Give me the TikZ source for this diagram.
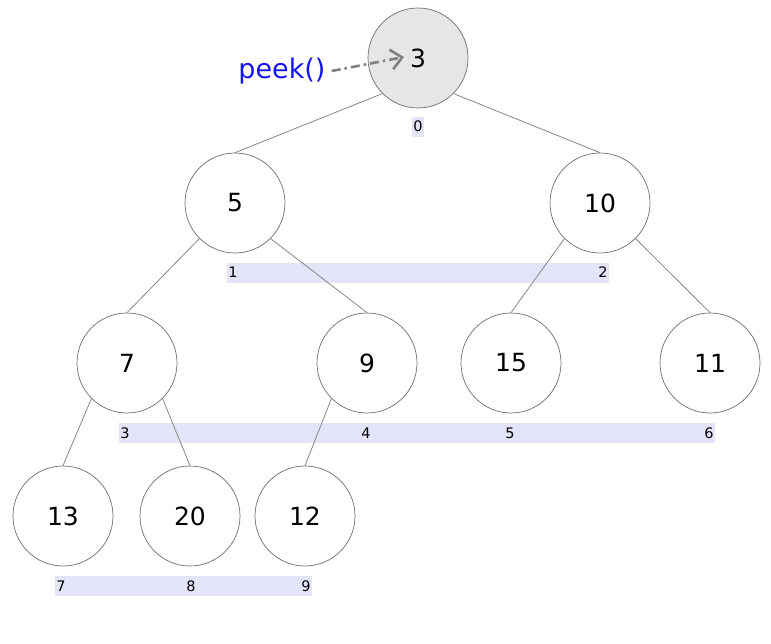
\documentclass[tikz,border=0pt]{standalone}
\usepackage{fontspec}
\setmainfont{DejaVu Sans}
\usetikzlibrary{backgrounds,arrows.meta}
\definecolor{bandcol}{RGB}{228,228,248}
\definecolor{rootfill}{RGB}{230,230,230}
\definecolor{edgecol}{RGB}{135,135,135}
\definecolor{circcol}{RGB}{110,110,110}
\definecolor{peekblue}{RGB}{20,20,245}
\definecolor{arrowcol}{RGB}{128,128,128}
\begin{document}
\begin{tikzpicture}[x=1pt,y=-1pt,
  heapnode/.style={circle,draw=circcol,line width=0.7pt,fill=white,minimum size=100pt,inner sep=0pt,font=\fontsize{25}{30}\selectfont},
  idx/.style={font=\fontsize{14.5}{16}\selectfont,inner xsep=1.5pt,inner ysep=2pt,text height=13pt,text depth=3pt},
  edge/.style={draw=edgecol,line width=0.8pt},
  band/.style={fill=bandcol}]
\useasboundingbox (0,0) rectangle (771,644);
% nodes
\node[heapnode,fill=rootfill] (n0) at (418,58) {3};
\node[heapnode] (n1) at (235,203) {5};
\node[heapnode] (n2) at (600,203) {10};
\node[heapnode] (n3) at (127,363) {7};
\node[heapnode] (n4) at (367,363) {9};
\node[heapnode] (n5) at (511,363) {15};
\node[heapnode] (n6) at (710,363) {11};
\node[heapnode] (n7) at (63,516) {13};
\node[heapnode] (n8) at (190,516) {20};
\node[heapnode] (n9) at (305,516) {12};
% index labels
\node[idx] (i0) at (418,127) {0};
\node[idx] (i1) at (233,273) {1};
\node[idx] (i2) at (603,273) {2};
\node[idx] (i3) at (125,433) {3};
\node[idx] (i4) at (366,433) {4};
\node[idx] (i5) at (510,433) {5};
\node[idx] (i6) at (709,433) {6};
\node[idx] (i7) at (61,586) {7};
\node[idx] (i8) at (191,586) {8};
\node[idx] (i9) at (306,586) {9};
\begin{scope}[on background layer]
  \fill[band] (i0.south west) rectangle (i0.north east);
  \fill[band] (i1.south west) rectangle (i2.north east);
  \fill[band] (i3.south west) rectangle (i6.north east);
  \fill[band] (i7.south west) rectangle (i9.north east);
  % edges
  \draw[edge] (n0.south west) -- (n1.north);
  \draw[edge] (n0.south east) -- (n2.north);
  \draw[edge] (n1.south west) -- (n3.north);
  \draw[edge] (n1.south east) -- (n4.north);
  \draw[edge] (n2.south west) -- (n5.north);
  \draw[edge] (n2.south east) -- (n6.north);
  \draw[edge] (n3.south west) -- (n7.north);
  \draw[edge] (n3.south east) -- (n8.north);
  \draw[edge] (n4.south west) -- (n9.north);
\end{scope}
% peek
\node[text=peekblue,font=\fontsize{27}{30}\selectfont,inner sep=0pt] (peek) at (282,71) {peek()};
\coordinate (ptip) at (404,57);
\draw[arrowcol,line width=2.6pt,dash pattern=on 9pt off 4pt on 2.5pt off 4pt,
  -{Straight Barb[length=11pt,width=20pt,line width=2.6pt]}] ([xshift=6pt,yshift=0pt]peek.east) -- (ptip);
\end{tikzpicture}
\end{document}
